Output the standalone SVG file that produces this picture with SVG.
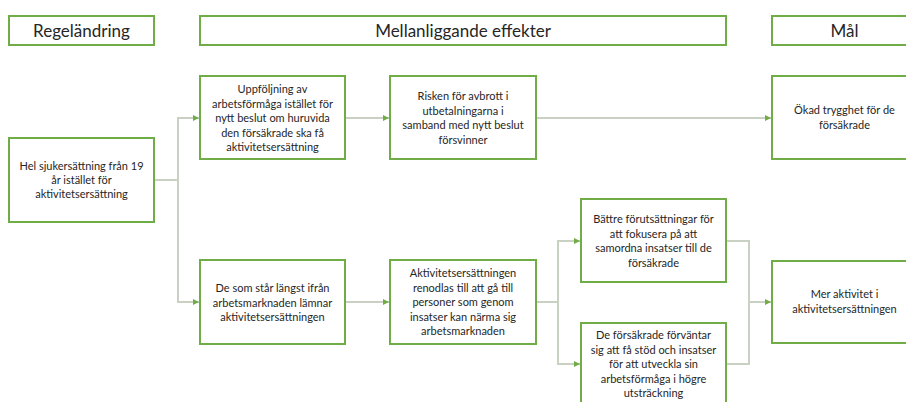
<svg xmlns="http://www.w3.org/2000/svg" width="906" height="402" viewBox="0 0 906 402">
<defs>
<style>
.box{fill:#fff;stroke:#70AD47;stroke-width:2}
.hd{font-family:Lato,"Liberation Sans",sans-serif;font-size:17px;fill:#262626;text-anchor:middle}
.t{font-family:Lato,"Liberation Sans",sans-serif;font-size:11px;fill:#262626;text-anchor:middle}
.c{fill:none;stroke:#C9D2C2;stroke-width:2}
</style>
<marker id="ah" viewBox="0 0 6 6" refX="6" refY="3" markerWidth="6" markerHeight="6" markerUnits="userSpaceOnUse" orient="auto">
<path d="M0,0 L6,3 L0,6 z" fill="#70AD47"/>
</marker>
</defs>
<rect width="906" height="402" fill="#fff"/>
<g id="connectors">
<path class="c" d="M154,180 H178 V118 H199" marker-end="url(#ah)"/>
<path class="c" d="M178,180 V302 H199" marker-end="url(#ah)"/>
<path class="c" d="M345,118 H389" marker-end="url(#ah)"/>
<path class="c" d="M536,118 H771" marker-end="url(#ah)"/>
<path class="c" d="M345,302 H389" marker-end="url(#ah)"/>
<path class="c" d="M536,302 H558 V241 H580" marker-end="url(#ah)"/>
<path class="c" d="M558,302 V364 H580" marker-end="url(#ah)"/>
<path class="c" d="M726,241 H749 V364 H726"/>
<path class="c" d="M749,302 H771" marker-end="url(#ah)"/>
</g>
<g id="h-regel"><rect class="box" x="9" y="16" width="145" height="29"/><text class="hd" x="81.5" y="37">Regeländring</text></g>
<g id="h-mellan"><rect class="box" x="200" y="16" width="526" height="29"/><text class="hd" x="463" y="37">Mellanliggande effekter</text></g>
<g id="h-mal"><rect class="box" x="772" y="16" width="145" height="29"/><text class="hd" x="844.5" y="37">Mål</text></g>
<g id="n-hel"><rect class="box" x="9" y="138" width="145" height="84"/>
<text class="t" x="81.5" y="170">Hel sjukersättning från 19</text>
<text class="t" x="81.5" y="184">år istället för</text>
<text class="t" x="81.5" y="198">aktivitetsersättning</text></g>
<g id="n-uppf"><rect class="box" x="200" y="76" width="145" height="83"/>
<text class="t" x="272.5" y="93">Uppföljning av</text>
<text class="t" x="272.5" y="107.5">arbetsförmåga istället för</text>
<text class="t" x="272.5" y="122">nytt beslut om huruvida</text>
<text class="t" x="272.5" y="136.5">den försäkrade ska få</text>
<text class="t" x="272.5" y="151">aktivitetsersättning</text></g>
<g id="n-risk"><rect class="box" x="390" y="76" width="146" height="83"/>
<text class="t" x="463" y="100">Risken för avbrott i</text>
<text class="t" x="463" y="114.5">utbetalningarna i</text>
<text class="t" x="463" y="129">samband med nytt beslut</text>
<text class="t" x="463" y="143.5">försvinner</text></g>
<g id="n-okad"><rect class="box" x="772" y="76" width="145" height="83"/>
<text class="t" x="844.5" y="114">Ökad trygghet för de</text>
<text class="t" x="844.5" y="128.5">försäkrade</text></g>
<g id="n-desom"><rect class="box" x="200" y="260" width="145" height="84"/>
<text class="t" x="272.5" y="292">De som står längst ifrån</text>
<text class="t" x="272.5" y="306.5">arbetsmarknaden lämnar</text>
<text class="t" x="272.5" y="321">aktivitetsersättningen</text></g>
<g id="n-aktiv"><rect class="box" x="390" y="260" width="146" height="84"/>
<text class="t" x="463" y="277">Aktivitetsersättningen</text>
<text class="t" x="463" y="291.5">renodlas till att gå till</text>
<text class="t" x="463" y="306">personer som genom</text>
<text class="t" x="463" y="320.5">insatser kan närma sig</text>
<text class="t" x="463" y="335">arbetsmarknaden</text></g>
<g id="n-battre"><rect class="box" x="581" y="199" width="145" height="83"/>
<text class="t" x="653.5" y="223">Bättre förutsättningar för</text>
<text class="t" x="653.5" y="237.5">att fokusera på att</text>
<text class="t" x="653.5" y="252">samordna insatser till de</text>
<text class="t" x="653.5" y="266.5">försäkrade</text></g>
<g id="n-forvant"><rect class="box" x="581" y="323" width="145" height="84"/>
<text class="t" x="653.5" y="339">De försäkrade förväntar</text>
<text class="t" x="653.5" y="353.5">sig att få stöd och insatser</text>
<text class="t" x="653.5" y="368">för att utveckla sin</text>
<text class="t" x="653.5" y="382.5">arbetsförmåga i högre</text>
<text class="t" x="653.5" y="397">utsträckning</text></g>
<g id="n-mer"><rect class="box" x="772" y="261" width="145" height="82"/>
<text class="t" x="844.5" y="298">Mer aktivitet i</text>
<text class="t" x="844.5" y="312.5">aktivitetsersättningen</text></g>
</svg>
